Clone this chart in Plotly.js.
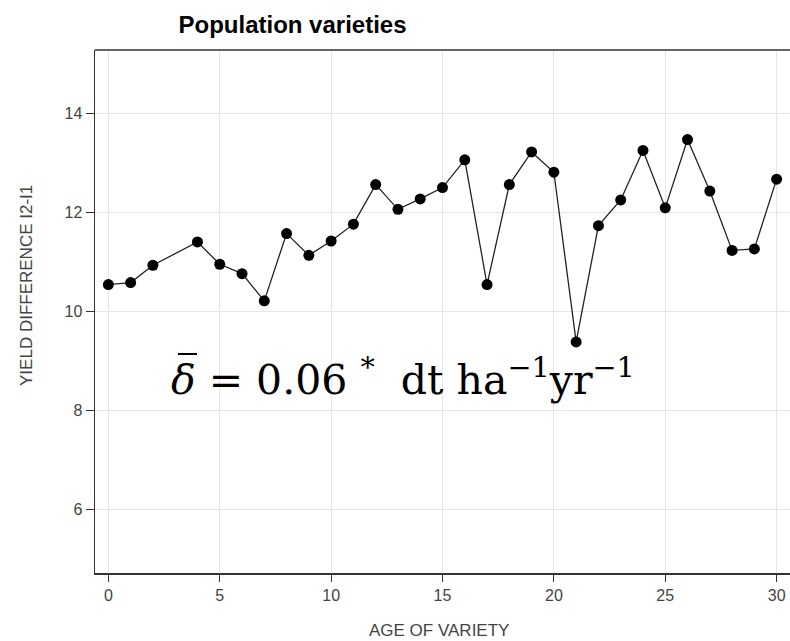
<!DOCTYPE html>
<html>
<head>
<meta charset="utf-8">
<script src="https://cdn.plot.ly/plotly-3.0.1.min.js"></script>
<style>
html,body{margin:0;padding:0;overflow:hidden;background:#fff;}
#chart{width:790px;height:641px;}
</style>
</head>
<body>
<div id="chart"></div>
<script>
// Data
const ageOfVariety = [0, 1, 2, 4, 5, 6, 7, 8, 9, 10, 11, 12, 13, 14, 15, 16, 17, 18, 19, 20, 21, 22, 23, 24, 25, 26, 27, 28, 29, 30];
const yieldDifference = [10.54, 10.58, 10.93, 11.40, 10.95, 10.76, 10.21, 11.57, 11.13, 11.42, 11.76, 12.56, 12.06, 12.27, 12.50, 13.06, 10.54, 12.56, 13.22, 12.81, 9.38, 11.73, 12.25, 13.25, 12.09, 13.47, 12.43, 11.23, 11.26, 12.67];
const xTickVals = [0, 5, 10, 15, 20, 25, 30];
const yTickVals = [6, 8, 10, 12, 14];

const titleText = "Population varieties";
const xTitleText = "AGE OF VARIETY";
const yTitleText = "YIELD DIFFERENCE I2-I1";
const slopeText = "<i>δ</i> = 0.06 <sup>*</sup>&nbsp; dt ha<sup>−1</sup>yr<sup>−1</sup>";

const trace = {
  x: ageOfVariety,
  y: yieldDifference,
  type: "scatter",
  mode: "lines+markers",
  line: {color: "#222222", width: 1.3},
  marker: {color: "#000000", size: 11},
  hoverinfo: "x+y"
};

const axisCommon = {
  showline: true,
  linecolor: "#333333",
  linewidth: 1.5,
  showgrid: true,
  gridcolor: "#e6e6e6",
  gridwidth: 1,
  zeroline: false,
  ticks: "outside",
  tickcolor: "#333333",
  tickfont: {family: "Liberation Sans, Arial, sans-serif", size: 16, color: "#444444"},
  mirror: false
};

const plotW = 695, plotH = 523;

const layout = {
  width: 790,
  height: 641,
  margin: {l: 95, r: 0, t: 50, b: 68},
  paper_bgcolor: "#ffffff",
  plot_bgcolor: "#ffffff",
  showlegend: false,
  title: {
    text: "<b>" + titleText + "</b>",
    font: {family: "Liberation Sans, Arial, sans-serif", size: 24, color: "#000000"},
    xref: "container", yref: "container",
    x: 292.5 / 790, xanchor: "center",
    y: 1 - 25 / 641, yanchor: "middle"
  },
  xaxis: Object.assign({}, axisCommon, {
    range: [-0.6, 30.6],
    tickvals: xTickVals,
    ticklen: 7
  }),
  yaxis: Object.assign({}, axisCommon, {
    range: [4.71, 15.28],
    tickvals: yTickVals,
    ticklen: 8
  }),
  shapes: [
    // top frame line
    {type: "line", xref: "paper", yref: "paper", x0: 0, x1: 1, y0: 1, y1: 1,
     line: {color: "#333333", width: 1.5}, layer: "above"},
    // macron over delta
    {type: "line", xref: "paper", yref: "paper",
     x0: (178 - 95) / plotW, x1: (197 - 95) / plotW,
     y0: (573 - 354) / plotH, y1: (573 - 354) / plotH,
     line: {color: "#000000", width: 2}}
  ],
  annotations: [
    {
      text: xTitleText, showarrow: false,
      xref: "paper", yref: "paper",
      x: 0.495, y: -0.109, xanchor: "center", yanchor: "middle",
      font: {family: "Liberation Sans, Arial, sans-serif", size: 17, color: "#444444"}
    },
    {
      text: yTitleText, showarrow: false, textangle: -90,
      xref: "paper", yref: "paper",
      x: -0.0977, y: 0.549, xanchor: "center", yanchor: "middle",
      font: {family: "Liberation Sans, Arial, sans-serif", size: 17, color: "#444444"}
    },
    {
      text: slopeText, showarrow: false,
      xref: "paper", yref: "paper",
      x: 0.1065, y: 0.375, xanchor: "left", yanchor: "middle",
      font: {family: "DejaVu Serif, serif", size: 41, color: "#000000"}
    }
  ]
};

Plotly.newPlot("chart", [trace], layout, {displayModeBar: false, staticPlot: true});
</script>
</body>
</html>
